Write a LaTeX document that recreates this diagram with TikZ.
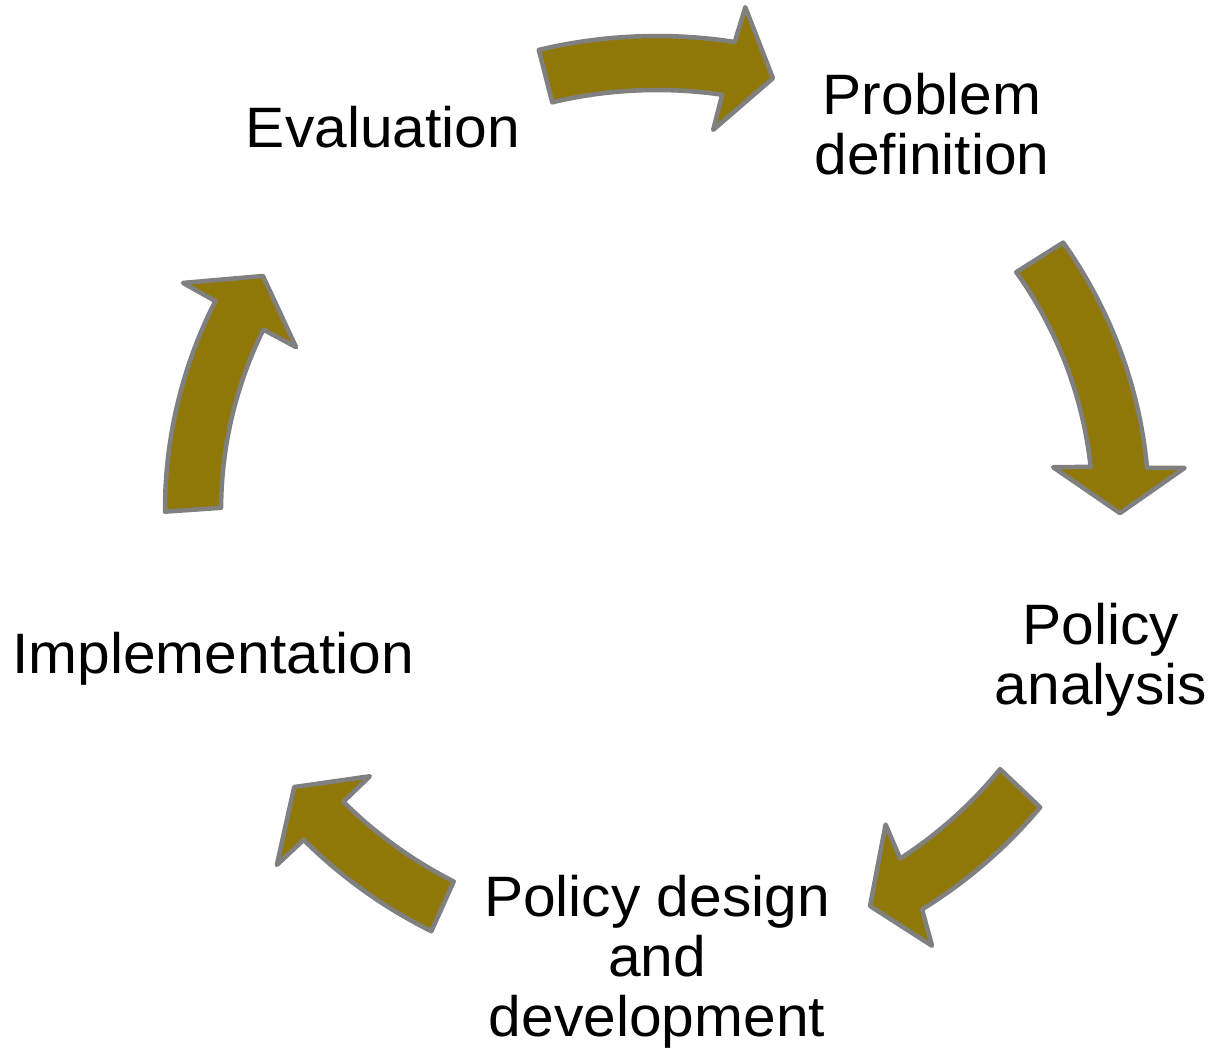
\documentclass[tikz,border=0pt]{standalone}
\usepackage{fontspec}
\setmainfont{Liberation Sans}[FakeStretch=1.03]
\definecolor{olivefill}{RGB}{143,120,8}
\definecolor{edgegray}{RGB}{128,128,128}
% #1 tail angle outer, #2 tail angle inner, #3 notch outer, #4 notch inner,
% #5 tip outer, #6 tip inner, #7 head point
\newcommand\cyclearrow[7]{%
  \draw[arrowbody] plot[domain=#1:#3, samples=40] (\x:474)
    -- (#5:510) -- (#7:446) -- (#6:384) -- (#4:420)
    -- plot[domain=#4:#2, samples=40] (\x:420) -- cycle;}
\begin{document}
\begin{tikzpicture}[x=1pt,y=-1pt,
  arrowbody/.style={fill=olivefill, draw=edgegray, line width=4.5pt, line join=round},
  steptext/.style={font=\fontsize{57}{60}\selectfont, align=center, inner sep=0pt, anchor=base}]
\useasboundingbox (0,0) rectangle (1213,1047);
\fill[white] (0,0) rectangle (1213,1047);
\begin{scope}[shift={(657,510)}, xscale=1.038, yscale=-1]
  \cyclearrow{103.9}{103.9}{80.9}{81.4}{80.4}{81.9}{75.5}
  \cyclearrow{34.35}{34.5}{5.1}{5.9}{4.73}{6.4}{-0.4}
  \cyclearrow{-38.85}{-38.1}{-57.4}{-56.1}{-58.7}{-55.0}{-62.6}
  \cyclearrow{242.7}{242.2}{224.1}{224.0}{224.1}{223.9}{218.4}
  \cyclearrow{180.2}{179.7}{153.85}{154.56}{153.56}{154.9}{148.35}
\end{scope}
% base anchor of a multi-line node is the baseline of its last line
\node[steptext] (prob) at (932,174) {Problem\\definition};
\node[steptext] (anal) at (1101,704) {Policy\\analysis};
\node[steptext] (desg) at (657,1036) {Policy design\\and\\development};
\node[steptext] (impl) at (213,673) {Implementation};
\node[steptext] (eval) at (383,147) {Evaluation};
\end{tikzpicture}
\end{document}
